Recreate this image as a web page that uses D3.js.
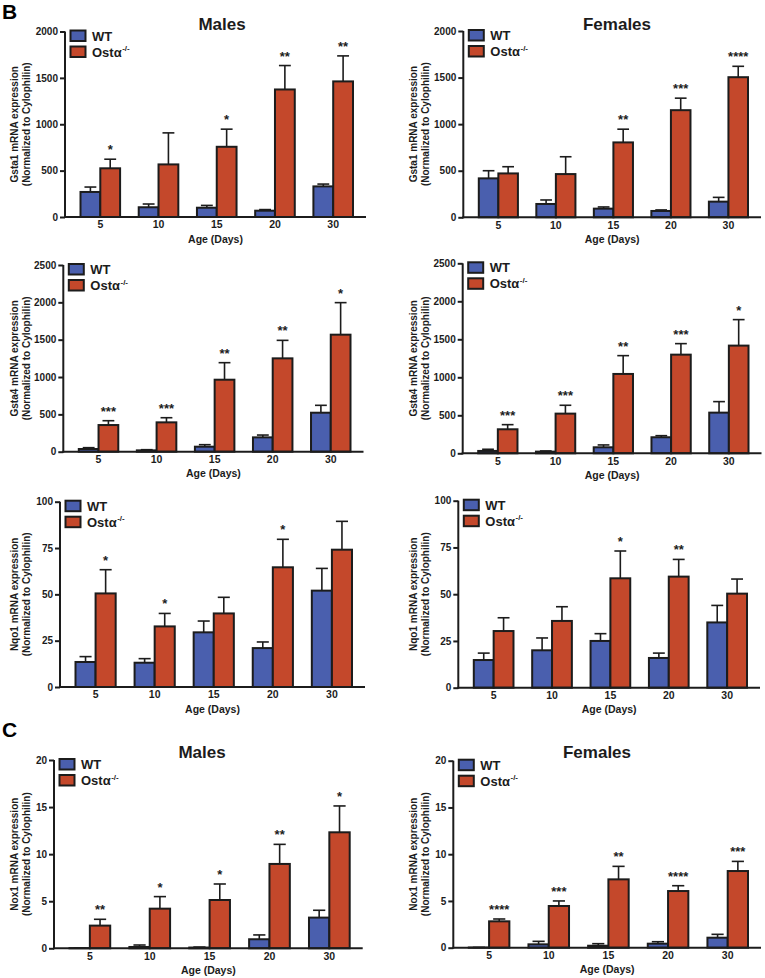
<!DOCTYPE html>
<html>
<head>
<meta charset="utf-8">
<script src="https://cdn.jsdelivr.net/npm/d3@7"></script>
<style>
  html, body { margin: 0; padding: 0; background: #fff; }
  svg { display: block; font-family: "Liberation Sans", Arial, sans-serif; font-weight: bold; }
</style>
</head>
<body>
<svg id="chart" width="765" height="978"></svg>
<script>
// ---------- DATA ----------
const ages = ["5", "10", "15", "20", "30"];
const seriesNames = ["WT", "Ostα"];

// Gsta1, males
const gsta1MaleWT = [270, 105, 100, 68, 330];
const gsta1MaleWTSem = [53, 35, 25, 12, 25];
const gsta1MaleKO = [525, 567, 757, 1375, 1462];
const gsta1MaleKOSem = [98, 340, 190, 258, 275];
const gsta1MaleStars = ["*", "", "*", "**", "**"];

// Gsta1, females
const gsta1FemaleWT = [418, 143, 93, 68, 168];
const gsta1FemaleWTSem = [82, 43, 18, 11, 46];
const gsta1FemaleKO = [471, 464, 804, 1150, 1504];
const gsta1FemaleKOSem = [72, 186, 142, 129, 117];
const gsta1FemaleStars = ["", "", "**", "***", "****"];

// Gsta4, males
const gsta4MaleWT = [36, 18, 67, 192, 522];
const gsta4MaleWTSem = [18, 9, 27, 31, 99];
const gsta4MaleKO = [357, 393, 964, 1250, 1567];
const gsta4MaleKOSem = [58, 62, 228, 241, 429];
const gsta4MaleStars = ["***", "***", "**", "**", "*"];

// Gsta4, females
const gsta4FemaleWT = [31, 22, 79, 211, 535];
const gsta4FemaleWTSem = [22, 9, 31, 21, 145];
const gsta4FemaleKO = [316, 522, 1044, 1298, 1417];
const gsta4FemaleKOSem = [61, 110, 241, 145, 342];
const gsta4FemaleStars = ["***", "***", "**", "***", "*"];

// Nqo1, males
const nqo1MaleWT = [13.5, 13.1, 29.5, 21.0, 52.0];
const nqo1MaleWTSem = [2.9, 2.2, 6.1, 3.3, 12.0];
const nqo1MaleKO = [50.5, 32.7, 39.7, 64.6, 74.1];
const nqo1MaleKOSem = [12.8, 7.0, 8.7, 15.1, 15.3];
const nqo1MaleStars = ["*", "*", "", "*", ""];

// Nqo1, females
const nqo1FemaleWT = [14.8, 20.0, 25.0, 15.9, 34.9];
const nqo1FemaleWTSem = [3.7, 6.6, 3.9, 2.6, 9.1];
const nqo1FemaleKO = [30.3, 35.7, 58.5, 59.4, 50.3];
const nqo1FemaleKOSem = [7.1, 7.6, 14.6, 9.2, 7.8];
const nqo1FemaleStars = ["", "", "*", "**", ""];

// Nox1, males
const nox1MaleWT = [0.02, 0.14, 0.08, 0.96, 3.26];
const nox1MaleWTSem = [0.01, 0.21, 0.05, 0.46, 0.78];
const nox1MaleKO = [2.41, 4.21, 5.13, 8.96, 12.32];
const nox1MaleKOSem = [0.67, 1.28, 1.70, 2.08, 2.80];
const nox1MaleStars = ["**", "*", "*", "**", "*"];

// Nox1, females
const nox1FemaleWT = [0.02, 0.36, 0.21, 0.43, 1.07];
const nox1FemaleWTSem = [0.01, 0.32, 0.22, 0.21, 0.36];
const nox1FemaleKO = [2.82, 4.46, 7.31, 6.06, 8.20];
const nox1FemaleKOSem = [0.25, 0.54, 1.39, 0.57, 1.03];
const nox1FemaleStars = ["****", "***", "**", "****", "***"];

// tick labels
const gsta1Ticks = [0, 500, 1000, 1500, 2000];
const gsta4Ticks = [0, 500, 1000, 1500, 2000, 2500];
const nqo1Ticks = [0, 25, 50, 75, 100];
const nox1Ticks = [0, 5, 10, 15, 20];

const xAxisTitle = "Age (Days)";
const normLabel = "(Normalized to Cylophilin)";

// ---------- PANELS (layout separate from data) ----------
const panels = [
  { gene: "Gsta1", wt: gsta1MaleWT, wtSem: gsta1MaleWTSem, ko: gsta1MaleKO, koSem: gsta1MaleKOSem, stars: gsta1MaleStars, ticks: gsta1Ticks,
    ax0: 65, ax1: 366, top: 31.5, bot: 217, labX: 17.5, title: "Males", titleX: 222, titleY: 29.5 },
  { gene: "Gsta1", wt: gsta1FemaleWT, wtSem: gsta1FemaleWTSem, ko: gsta1FemaleKO, koSem: gsta1FemaleKOSem, stars: gsta1FemaleStars, ticks: gsta1Ticks,
    ax0: 463.3, ax1: 761, top: 31, bot: 217.3, labX: 416.5, title: "Females", titleX: 617, titleY: 29.5 },
  { gene: "Gsta4", wt: gsta4MaleWT, wtSem: gsta4MaleWTSem, ko: gsta4MaleKO, koSem: gsta4MaleKOSem, stars: gsta4MaleStars, ticks: gsta4Ticks,
    ax0: 63.3, ax1: 363.5, top: 265, bot: 451.7, labX: 17.5 },
  { gene: "Gsta4", wt: gsta4FemaleWT, wtSem: gsta4FemaleWTSem, ko: gsta4FemaleKO, koSem: gsta4FemaleKOSem, stars: gsta4FemaleStars, ticks: gsta4Ticks,
    ax0: 462.7, ax1: 761.5, top: 263.3, bot: 453.3, labX: 416.5 },
  { gene: "Nqo1", wt: nqo1MaleWT, wtSem: nqo1MaleWTSem, ko: nqo1MaleKO, koSem: nqo1MaleKOSem, stars: nqo1MaleStars, ticks: nqo1Ticks,
    ax0: 60, ax1: 365, top: 501.7, bot: 687, labX: 17.5 },
  { gene: "Nqo1", wt: nqo1FemaleWT, wtSem: nqo1FemaleWTSem, ko: nqo1FemaleKO, koSem: nqo1FemaleKOSem, stars: nqo1FemaleStars, ticks: nqo1Ticks,
    ax0: 458.3, ax1: 760, top: 500.7, bot: 687.7, labX: 416.5 },
  { gene: "Nox1", wt: nox1MaleWT, wtSem: nox1MaleWTSem, ko: nox1MaleKO, koSem: nox1MaleKOSem, stars: nox1MaleStars, ticks: nox1Ticks,
    ax0: 54, ax1: 362.7, top: 760, bot: 948.3, labX: 17.5, title: "Males", titleX: 202, titleY: 757.5 },
  { gene: "Nox1", wt: nox1FemaleWT, wtSem: nox1FemaleWTSem, ko: nox1FemaleKO, koSem: nox1FemaleKOSem, stars: nox1FemaleStars, ticks: nox1Ticks,
    ax0: 453.3, ax1: 761, top: 760.7, bot: 947.7, labX: 416.5, title: "Females", titleX: 597, titleY: 757.5 }
];

const colors = ["#4a5fae", "#c4482b"];
const ink = "#1c1c1c";
const svg = d3.select("#chart");

// panel letters
svg.append("text").attr("x", 2).attr("y", 19).attr("font-size", 21).attr("fill", "#000").text("B");
svg.append("text").attr("x", 2).attr("y", 737).attr("font-size", 21).attr("fill", "#000").text("C");

panels.forEach(p => {
  const g = svg.append("g");
  const yMax = p.ticks[p.ticks.length - 1];
  const y = d3.scaleLinear().domain([0, yMax]).range([p.bot, p.top]);
  const x0 = d3.scaleBand().domain(ages).range([p.ax0 + 15.5, p.ax1 - 13]).paddingInner(0.32).paddingOuter(0);
  const x1 = d3.scaleBand().domain([0, 1]).range([0, x0.bandwidth()]).padding(0);
  const bw = x1.bandwidth();
  const capW = bw * 0.6;

  const rows = ages.map((a, i) => ({ age: a, vals: [p.wt[i], p.ko[i]], sems: [p.wtSem[i], p.koSem[i]], star: p.stars[i] }));

  // bars
  rows.forEach(r => {
    [0, 1].forEach(s => {
      const bx = x0(r.age) + x1(s);
      const yv = y(r.vals[s]), ye = y(r.vals[s] + r.sems[s]);
      const cx = bx + bw / 2;
      // error bar (upper only)
      g.append("line").attr("x1", cx).attr("x2", cx).attr("y1", yv).attr("y2", ye)
        .attr("stroke", ink).attr("stroke-width", 1.6);
      g.append("line").attr("x1", cx - capW / 2).attr("x2", cx + capW / 2).attr("y1", ye).attr("y2", ye)
        .attr("stroke", ink).attr("stroke-width", 1.6);
      g.append("rect").attr("x", bx).attr("y", yv).attr("width", bw).attr("height", Math.max(0, p.bot - yv))
        .attr("fill", colors[s]).attr("stroke", ink).attr("stroke-width", 2);
    });
    if (r.star) {
      const cx = x0(r.age) + x1(1) + bw / 2;
      g.append("text").attr("x", cx).attr("y", y(r.vals[1] + r.sems[1]) - 5)
        .attr("text-anchor", "middle").attr("font-size", 13).attr("fill", ink).text(r.star);
    }
  });

  // y axis
  const yAx = g.append("g").attr("transform", `translate(${p.ax0},0)`)
    .call(d3.axisLeft(y).tickValues(p.ticks).tickSize(5).tickSizeOuter(0).tickPadding(2).tickFormat(d3.format("d")));
  yAx.select(".domain").attr("stroke", ink).attr("stroke-width", 2).attr("d", `M0,${p.bot + 1}V${p.top}`);
  yAx.selectAll(".tick line").attr("stroke", ink).attr("stroke-width", 2);
  yAx.selectAll(".tick text").attr("font-size", 10).attr("font-family", "Liberation Sans, Arial, sans-serif")
    .attr("font-weight", "bold").attr("fill", ink);

  // x axis
  const xAx = g.append("g").attr("transform", `translate(0,${p.bot})`)
    .call(d3.axisBottom(x0).tickSize(0).tickPadding(4).tickSizeOuter(0));
  xAx.select(".domain").attr("stroke", ink).attr("stroke-width", 2).attr("d", `M${p.ax0 - 1},0H${p.ax1}`);
  xAx.selectAll(".tick text").attr("font-size", 10.5).attr("font-family", "Liberation Sans, Arial, sans-serif")
    .attr("font-weight", "bold").attr("fill", ink).attr("dy", "0.71em");

  // x title
  g.append("text").attr("x", (p.ax0 + p.ax1) / 2).attr("y", p.bot + 25.5).attr("text-anchor", "middle")
    .attr("font-size", 10.5).attr("fill", ink).text(xAxisTitle);

  // y title (two lines)
  const ymid = (p.top + p.bot) / 2;
  g.append("text").attr("transform", `translate(${p.labX},${ymid}) rotate(-90)`).attr("text-anchor", "middle")
    .attr("font-size", 10).attr("fill", ink).text(p.gene + " mRNA expression");
  g.append("text").attr("transform", `translate(${p.labX + 12.5},${ymid}) rotate(-90)`).attr("text-anchor", "middle")
    .attr("font-size", 10).attr("fill", ink).text(normLabel);

  // legend
  const lx = p.ax0 + 5.5, ly = p.top - 1;
  seriesNames.forEach((nm, s) => {
    const yy = ly + s * 16;
    g.append("rect").attr("x", lx).attr("y", yy).attr("width", 15).attr("height", 10.5)
      .attr("fill", colors[s]).attr("stroke", ink).attr("stroke-width", 2);
    const t = g.append("text").attr("x", lx + 21.5).attr("y", yy + 10).attr("font-size", 13).attr("fill", ink).text(nm);
    if (s === 1) {
      t.append("tspan").attr("font-size", 8).attr("dy", -5.5).attr("dx", 0.5).text("-/-");
    }
  });

  // title
  if (p.title) {
    g.append("text").attr("x", p.titleX).attr("y", p.titleY).attr("text-anchor", "middle")
      .attr("font-size", 17).attr("fill", ink).text(p.title);
  }
});
</script>
</body>
</html>
